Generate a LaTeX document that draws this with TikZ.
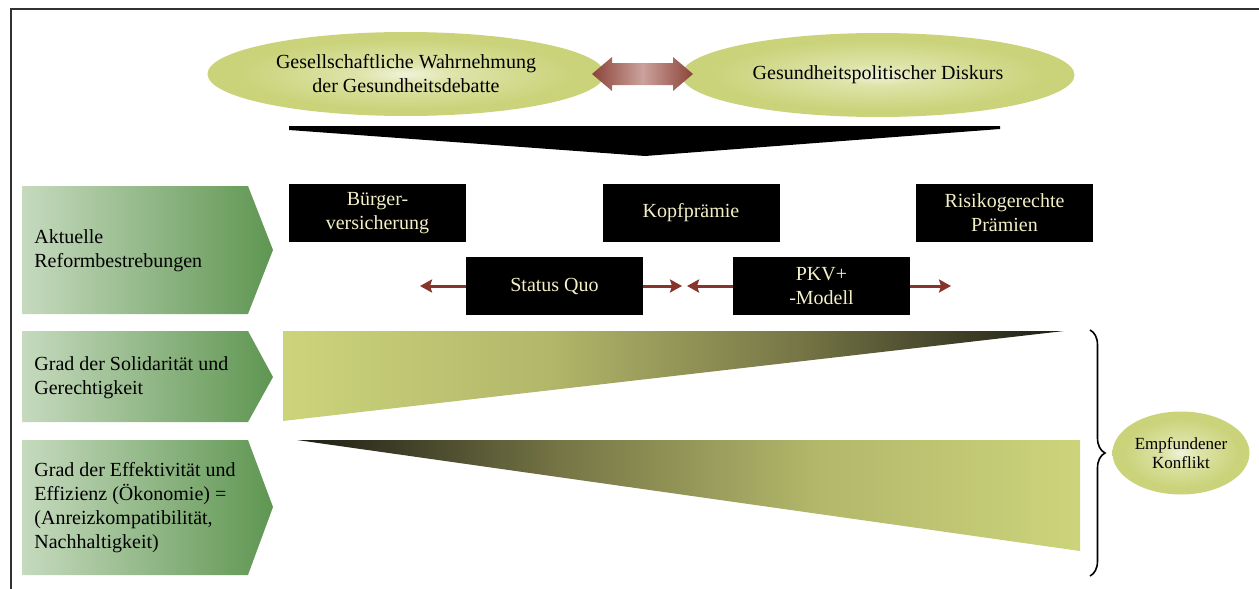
\documentclass[tikz,border=0pt]{standalone}
\usepackage{fontspec}
\setmainfont{Liberation Serif}
\usetikzlibrary{shapes.geometric,arrows.meta,decorations.pathreplacing}

% palette
\definecolor{chevL}{RGB}{198,218,190}
\definecolor{chevR}{RGB}{95,150,82}
\definecolor{ellOut}{RGB}{202,211,122}
\definecolor{ellMid}{RGB}{222,228,170}
\definecolor{ellIn}{RGB}{241,243,218}
\definecolor{arrDark}{RGB}{140,68,58}
\definecolor{arrLight}{RGB}{203,162,156}
\definecolor{boxText}{RGB}{243,239,198}
\definecolor{linkRed}{RGB}{135,52,42}
\definecolor{frameGray}{RGB}{50,50,50}
\definecolor{wA}{RGB}{204,212,123}
\definecolor{wB}{RGB}{178,183,106}
\definecolor{wC}{RGB}{118,118,70}
\definecolor{wD}{RGB}{28,28,20}

% soft glow inside the ellipses (path box edge sits at 25bp)
\pgfdeclareradialshading{ellglow}{\pgfpoint{0bp}{0bp}}{%
  color(0bp)=(ellIn); color(6bp)=(ellMid); color(21bp)=(ellOut); color(50bp)=(ellOut)}
% wedge that darkens to the right (visible window 25bp..75bp)
\pgfdeclarehorizontalshading{toDark}{100bp}{%
  color(0bp)=(wA); color(25bp)=(wA); color(42bp)=(wB); color(58bp)=(wC);
  color(75bp)=(wD); color(100bp)=(wD)}
% wedge that brightens to the right
\pgfdeclarehorizontalshading{toLight}{100bp}{%
  color(0bp)=(wD); color(25bp)=(wD); color(42bp)=(wC); color(58bp)=(wB);
  color(75bp)=(wA); color(100bp)=(wA)}

\tikzset{
  txt/.style={font=\fontsize{10}{12}\selectfont},
  ellbox/.style={ellipse, shading=ellglow, inner sep=0pt, align=center, txt},
  blackbox/.style={fill=black, text=boxText, minimum width=88.5pt, minimum height=29pt,
    inner sep=0pt, align=center, txt},
  chevron/.style={left color=chevL, right color=chevR, draw=none},
  rowlabel/.style={anchor=west, align=left, inner sep=0pt, txt},
  link/.style={draw=linkRed, line width=1.5pt, -{Stealth[length=6pt,width=6.5pt,inset=1pt]}},
  framing/.style={draw=frameGray, line width=0.8pt},
}

\begin{document}
\begin{tikzpicture}[x=0.5pt, y=-0.5pt]
\useasboundingbox (0,0) rectangle (1259,589);

% page frame (top and left edge)
\draw[framing] (10,9) -- (1259,9);
\draw[framing] (11,9) -- (11,589);

% two discourse ellipses and the exchange arrow between them
\node[ellbox, minimum width=198.5pt, minimum height=42pt] (soc) at (406,74)
  {Gesellschaftliche Wahrnehmung\\der Gesundheitsdebatte};
\node[ellbox, minimum width=196.5pt, minimum height=42pt] (pol) at (878,75)
  {Gesundheitspolitischer Diskurs};
\shade[left color=arrDark, right color=arrDark, middle color=arrLight]
  (592,74) -- (612,57) -- (612,63) -- (673,63) -- (673,57) -- (693,74)
  -- (673,91) -- (673,85) -- (612,85) -- (612,91) -- cycle;

% funnel
\fill[black] (289,126) -- (1000,126) -- (1000,129) -- (645,156) -- (289,130) -- cycle;

% row labels
\shade[chevron] (22,186) -- (248,186) -- (273,250) -- (248,314) -- (22,314) -- cycle;
\node[rowlabel] (rowA) at (34,251) {Aktuelle\\Reformbestrebungen};
\shade[chevron] (22,331) -- (248,331) -- (273,377) -- (248,422) -- (22,422) -- cycle;
\node[rowlabel] (rowB) at (34,378) {Grad der Solidarität und\\Gerechtigkeit};
\shade[chevron] (22,440) -- (248,440) -- (273,507) -- (248,575) -- (22,575) -- cycle;
\node[rowlabel] (rowC) at (34,508)
  {Grad der Effektivität und\\Effizienz (Ökonomie) =\\(Anreizkompatibilität,\\Nachhaltigkeit)};

% reform models
\node[blackbox] (buerger) at (377.5,213) {Bürger-\\versicherung};
\node[blackbox] (kopf) at (691,213) {Kopfprämie};
\node[blackbox] (risiko) at (1004.5,213) {Risikogerechte\\Prämien};
\node[blackbox] (sq) at (554.5,286) {Status Quo};
\node[blackbox] (pkv) at (821.5,286) {PKV+\\-Modell};

\coordinate (sqL) at (420,286);
\coordinate (sqR) at (682,286);
\coordinate (pkvL) at (687,286);
\coordinate (pkvR) at (951,286);
\draw[link] (sq.west) -- (sqL);
\draw[link] (sq.east) -- (sqR);
\draw[link] (pkv.west) -- (pkvL);
\draw[link] (pkv.east) -- (pkvR);

% opposing wedges
\shade[shading=toDark] (283,331) -- (1064,331) -- (283,421) -- cycle;
\shade[shading=toLight] (297,440) -- (1080,440) -- (1080,551) -- cycle;

% brace and resulting conflict
\draw[line width=0.8pt, decorate, decoration={brace, amplitude=7.5pt}]
  (1090,330) -- (1090,576);
\node[ellbox, minimum width=68.5pt, minimum height=41.5pt,
  font=\fontsize{8.5}{9.5}\selectfont] (konflikt) at (1181,453) {Empfundener\\Konflikt};
\end{tikzpicture}
\end{document}
